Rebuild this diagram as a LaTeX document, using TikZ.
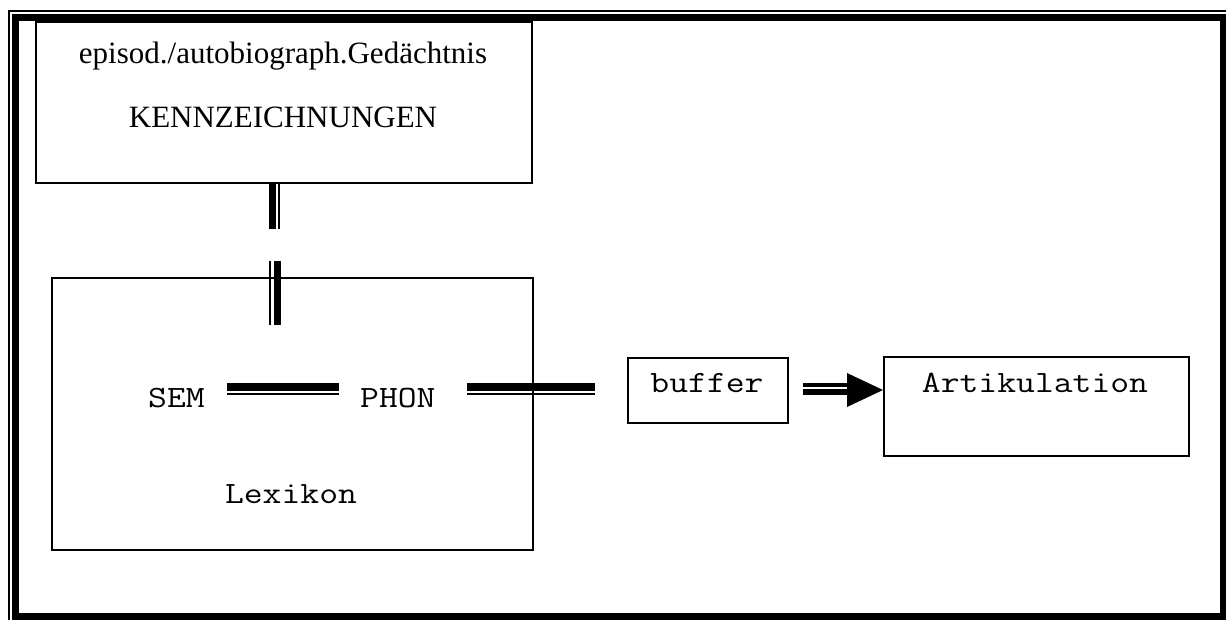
\documentclass[tikz,border=0pt]{standalone}
\usepackage{fontspec}
\setmainfont{Liberation Serif}
\newfontfamily\monofam[FakeStretch=1.18]{Latin Modern Mono}
\begin{document}
\begin{tikzpicture}[x=1pt,y=-1pt,
  box/.style={draw,line width=2pt,inner sep=0pt,anchor=north west},
  serif/.style={font=\fontsize{31pt}{34pt}\selectfont,inner sep=0pt,anchor=base},
  mono/.style={font=\monofam\fontsize{31pt}{36pt}\selectfont,inner sep=0pt,anchor=base},
  thickbar/.style={line width=7.5pt},
  thinbar/.style={line width=2pt}]
\useasboundingbox (0,0) rectangle (1226,619);
\clip (0,0) rectangle (1226,619);
% outer double frame
\draw[line width=1.5pt] (9,11) rectangle (1232,625);
\draw[line width=7pt] (15.5,17.5) rectangle (1223.5,616.5);
% boxes
\node[box,minimum width=496pt,minimum height=161pt] (mem) at (35,21) {};
\node[box,minimum width=481pt,minimum height=272pt] (lex) at (51,277) {};
\node[box,minimum width=160pt,minimum height=65pt] (buf) at (627,357) {};
\node[box,minimum width=305pt,minimum height=99pt] (art) at (883,356) {};
% texts
\node[serif] (t1) at (283,63) {episod./autobiograph.Gedächtnis};
\node[serif] (t2) at (283,127) {KENNZEICHNUNGEN};
\node[mono,anchor=base west] (sem) at (148,407) {SEM};
\node[mono,anchor=base west] (phon) at (360,407) {PHON};
\node[mono] (lexi) at (291,503) {Lexikon};
\node[mono] (buft) at (707,392) {buffer};
\node[mono] (artt) at (1035,392) {Artikulation};
% connector end points
\coordinate (v1a) at (272.5,182); \coordinate (v1b) at (272.5,229);
\coordinate (v1c) at (279,182);   \coordinate (v1d) at (279,229);
\coordinate (v2a) at (270,261);   \coordinate (v2b) at (270,325);
\coordinate (v2c) at (277.5,261); \coordinate (v2d) at (277.5,325);
\coordinate (h1a) at (227,387);   \coordinate (h1b) at (339,387);
\coordinate (h1c) at (227,394);   \coordinate (h1d) at (339,394);
\coordinate (h2a) at (467,387);   \coordinate (h2b) at (595,387);
\coordinate (h2c) at (467,394);   \coordinate (h2d) at (595,394);
\coordinate (ar1) at (803,385);   \coordinate (ar2) at (848,385);
\coordinate (ar3) at (803,392);   \coordinate (ar4) at (848,392);
\coordinate (tipA) at (847,373);  \coordinate (tipB) at (847,407);
% memory -- lexicon link
\draw[thickbar] (v1a) -- (v1b);
\draw[thinbar] (v1c) -- (v1d);
\draw[thinbar] (v2a) -- (v2b);
\draw[thickbar] (v2c) -- (v2d);
% SEM == PHON
\draw[thickbar] (h1a) -- (h1b);
\draw[thinbar] (h1c) -- (h1d);
% PHON == buffer
\draw[thickbar] (h2a) -- (h2b);
\draw[thinbar] (h2c) -- (h2d);
% buffer => Artikulation
\draw[line width=4pt] (ar1) -- (ar2);
\draw[line width=6.5pt] (ar3) -- (ar4);
\fill (tipA) -- (art.west |- 0,390) -- (tipB) -- cycle;
\end{tikzpicture}
\end{document}
